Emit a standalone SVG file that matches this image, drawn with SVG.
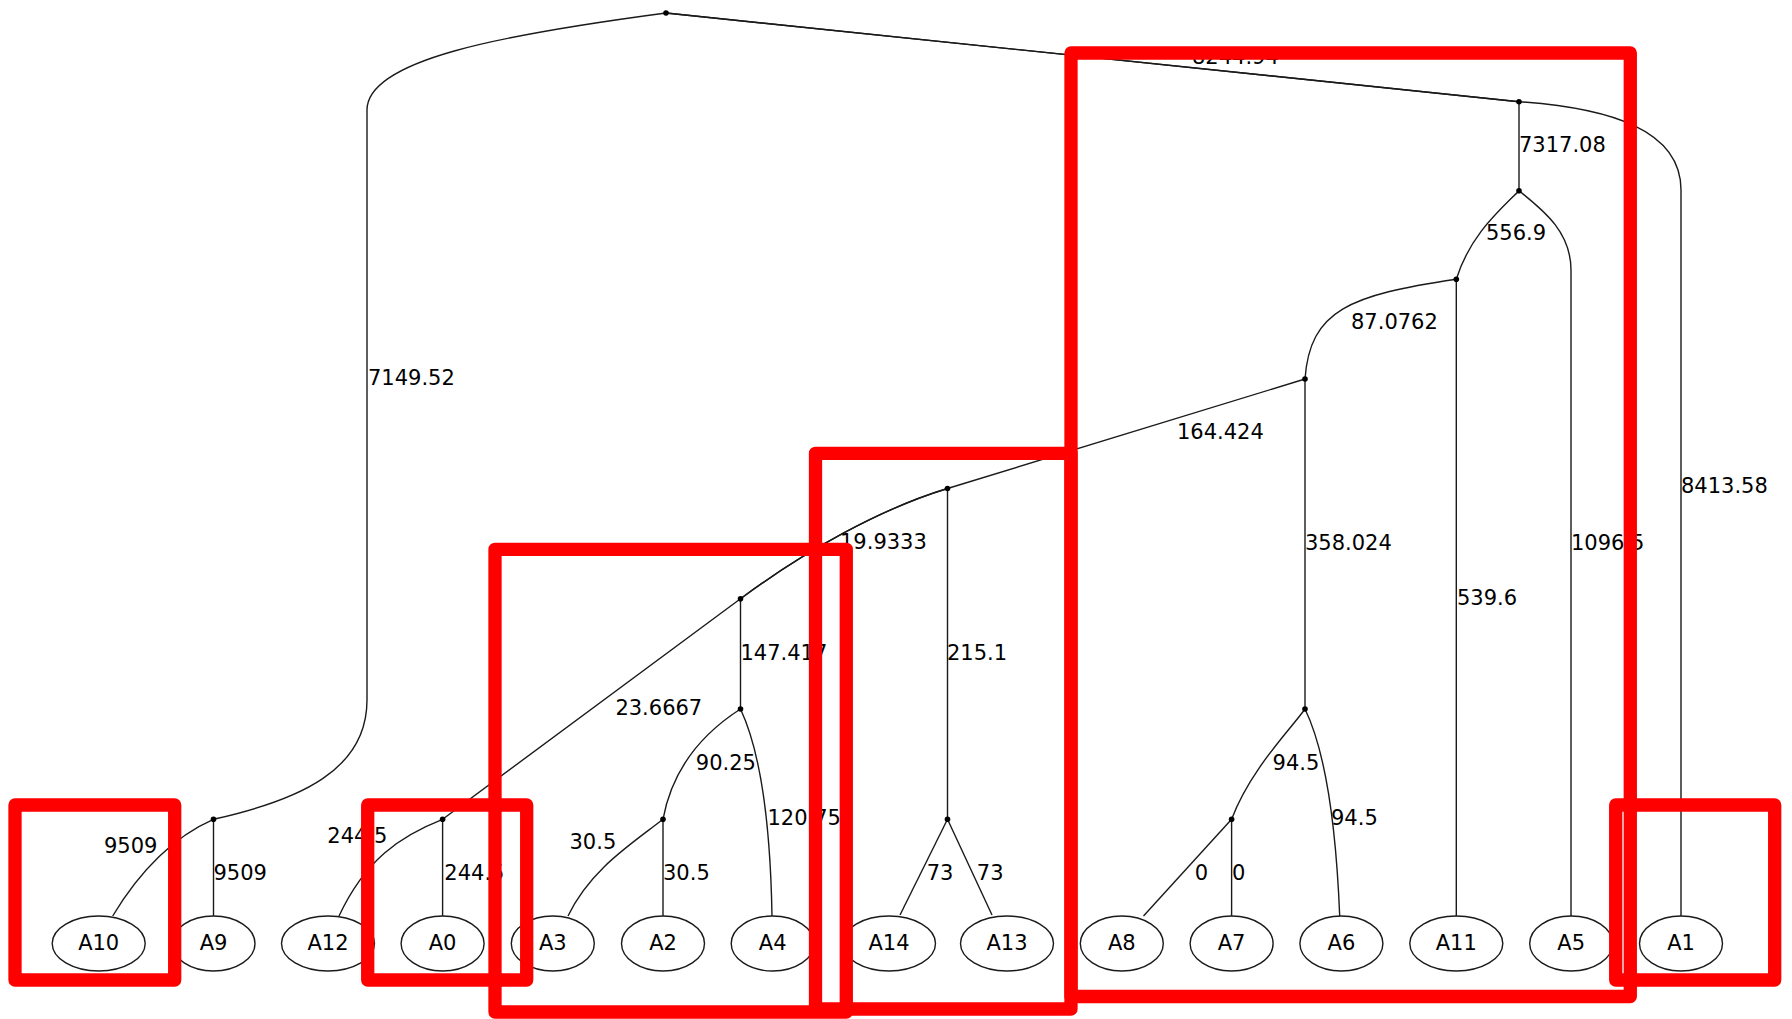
<svg xmlns="http://www.w3.org/2000/svg" width="1792" height="1019" viewBox="0 0 1792 1019">
<style>
.e{fill:none;stroke:#1a1a1a;stroke-width:1.4}
.n ellipse{fill:none;stroke:#1a1a1a;stroke-width:1.4}
.n text,.lbl{font-family:"DejaVu Sans","Liberation Sans",sans-serif;font-size:21px;fill:#000}
.n text{text-anchor:middle}
.d{fill:#000}
.hl{fill:none;stroke:#ff0000;stroke-width:13.3;stroke-linejoin:round}
</style>
<rect width="1792" height="1019" fill="#fff"/>
<g id="connectors">
<path class="e" d="M666,13 C500,35 367,60 367,110 L367,700 C367,770 300,800 213.5,819.3"/>
<path class="e" d="M666,13 L1519,101.7"/>
<path class="e" d="M666,13 L1519,101.7 C1610,108 1681,130 1681,190 L1681,916"/>
<path class="e" d="M1519,101.7 L1519,190.7"/>
<path class="e" d="M1519,190.7 C1500,210 1470,235 1456.3,279.3"/>
<path class="e" d="M1519,190.7 C1540,208 1571,230 1571,270 L1571,916"/>
<path class="e" d="M1456.3,279.3 C1350,295 1310,310 1305,379"/>
<path class="e" d="M1456.3,279.3 L1456.3,916"/>
<path class="e" d="M1305,379 L947.5,488.5"/>
<path class="e" d="M1305,379 L1305,709"/>
<path class="e" d="M947.5,488.5 C880,509 805,551 740.5,598.7"/>
<path class="e" d="M947.5,488.5 C880,509 805,551 740.5,598.7 L442.6,819.3"/>
<path class="e" d="M740.5,598.7 L740.5,709"/>
<path class="e" d="M947.5,488.5 L947.5,819.3"/>
<path class="e" d="M740.5,709 C700,735 672,770 663,819.3"/>
<path class="e" d="M740.5,709 C755,740 770,800 772,916"/>
<path class="e" d="M663,819.3 C630,845 590,870 568,916"/>
<path class="e" d="M663,819.3 L663,916"/>
<path class="e" d="M442.6,819.3 C400,836 365,860 339,916"/>
<path class="e" d="M442.6,819.3 L442.6,916"/>
<path class="e" d="M213.5,819.3 C175,836 140,870 112.7,916"/>
<path class="e" d="M213.5,819.3 L213.5,916"/>
<path class="e" d="M947.5,819.3 L900,915"/>
<path class="e" d="M947.5,819.3 L992,915"/>
<path class="e" d="M1305,709 C1290,730 1250,770 1231.6,819.3"/>
<path class="e" d="M1305,709 C1320,740 1335,800 1339.7,916"/>
<path class="e" d="M1231.6,819.3 L1143.5,916"/>
<path class="e" d="M1231.6,819.3 L1231.6,916"/>
</g>
<g id="edge-labels">
<text class="lbl" x="1192" y="64">8244.94</text>
<text class="lbl" x="368" y="385">7149.52</text>
<text class="lbl" x="1519" y="152">7317.08</text>
<text class="lbl" x="1486" y="240">556.9</text>
<text class="lbl" x="1351" y="329">87.0762</text>
<text class="lbl" x="1177" y="439">164.424</text>
<text class="lbl" x="1681" y="493">8413.58</text>
<text class="lbl" x="1305" y="550">358.024</text>
<text class="lbl" x="1571" y="550">1096.5</text>
<text class="lbl" x="1457" y="605">539.6</text>
<text class="lbl" x="947" y="660">215.1</text>
<text class="lbl" x="1272.6" y="770">94.5</text>
<text class="lbl" x="1331" y="825">94.5</text>
<text class="lbl" x="926.7" y="880">73</text>
<text class="lbl" x="976.8" y="880">73</text>
<text class="lbl" x="1194.7" y="880">0</text>
<text class="lbl" x="1232" y="880">0</text>
<text class="lbl" x="840" y="549">19.9333</text>
<text class="lbl" x="740.5" y="660">147.417</text>
<text class="lbl" x="615.4" y="715">23.6667</text>
<text class="lbl" x="695.8" y="770">90.25</text>
<text class="lbl" x="767.5" y="825">120.75</text>
<text class="lbl" x="569.5" y="849">30.5</text>
<text class="lbl" x="663" y="880">30.5</text>
<text class="lbl" x="327.3" y="842.7">244.5</text>
<text class="lbl" x="444.3" y="880">244.5</text>
<text class="lbl" x="104" y="853.3">9509</text>
<text class="lbl" x="213.5" y="880">9509</text>
</g>
<g id="inner-nodes">
<circle id="n_root" class="d" cx="666" cy="13" r="2.8"/>
<circle id="n_r1" class="d" cx="1519" cy="101.7" r="2.8"/>
<circle id="n_r2" class="d" cx="1519" cy="190.7" r="2.8"/>
<circle id="n_r3" class="d" cx="1456.3" cy="279.3" r="2.8"/>
<circle id="n_r4" class="d" cx="1305" cy="379" r="2.8"/>
<circle id="n_r5" class="d" cx="947.5" cy="488.5" r="2.8"/>
<circle id="n_r6" class="d" cx="740.5" cy="598.7" r="2.8"/>
<circle id="n_r7" class="d" cx="740.5" cy="709" r="2.8"/>
<circle id="n_r8" class="d" cx="663" cy="819.3" r="2.8"/>
<circle id="n_r9" class="d" cx="1305" cy="709" r="2.8"/>
<circle id="n_r10" class="d" cx="1231.6" cy="819.3" r="2.8"/>
<circle id="n_ra" class="d" cx="947.5" cy="819.3" r="2.8"/>
<circle id="n_a0p" class="d" cx="442.6" cy="819.3" r="2.8"/>
<circle id="n_a9p" class="d" cx="213.5" cy="819.3" r="2.8"/>
</g>
<g id="A10" class="n"><ellipse cx="98.7" cy="943.5" rx="46.5" ry="27.5"/><text x="98.7" y="950">A10</text></g>
<g id="A9" class="n"><ellipse cx="213.5" cy="943.5" rx="41.5" ry="27.5"/><text x="213.5" y="950">A9</text></g>
<g id="A12" class="n"><ellipse cx="328" cy="943.5" rx="46.5" ry="27.5"/><text x="328" y="950">A12</text></g>
<g id="A0" class="n"><ellipse cx="442.6" cy="943.5" rx="41.5" ry="27.5"/><text x="442.6" y="950">A0</text></g>
<g id="A3" class="n"><ellipse cx="552.8" cy="943.5" rx="41.5" ry="27.5"/><text x="552.8" y="950">A3</text></g>
<g id="A2" class="n"><ellipse cx="663" cy="943.5" rx="41.5" ry="27.5"/><text x="663" y="950">A2</text></g>
<g id="A4" class="n"><ellipse cx="772.7" cy="943.5" rx="41.5" ry="27.5"/><text x="772.7" y="950">A4</text></g>
<g id="A14" class="n"><ellipse cx="889" cy="943.5" rx="46.5" ry="27.5"/><text x="889" y="950">A14</text></g>
<g id="A13" class="n"><ellipse cx="1007" cy="943.5" rx="46.5" ry="27.5"/><text x="1007" y="950">A13</text></g>
<g id="A8" class="n"><ellipse cx="1121.8" cy="943.5" rx="41.5" ry="27.5"/><text x="1121.8" y="950">A8</text></g>
<g id="A7" class="n"><ellipse cx="1231.6" cy="943.5" rx="41.5" ry="27.5"/><text x="1231.6" y="950">A7</text></g>
<g id="A6" class="n"><ellipse cx="1341.4" cy="943.5" rx="41.5" ry="27.5"/><text x="1341.4" y="950">A6</text></g>
<g id="A11" class="n"><ellipse cx="1456.3" cy="943.5" rx="46.5" ry="27.5"/><text x="1456.3" y="950">A11</text></g>
<g id="A5" class="n"><ellipse cx="1571.2" cy="943.5" rx="41.5" ry="27.5"/><text x="1571.2" y="950">A5</text></g>
<g id="A1" class="n"><ellipse cx="1681" cy="943.5" rx="41.5" ry="27.5"/><text x="1681" y="950">A1</text></g>
<g id="highlights">
<rect class="hl" x="15" y="805" width="159.7" height="175"/>
<rect class="hl" x="367.7" y="805" width="159" height="175"/>
<rect class="hl" x="495" y="549.3" width="351.3" height="462.7"/>
<rect class="hl" x="815.5" y="453.3" width="255.5" height="555.7"/>
<rect class="hl" x="1071" y="53" width="559.3" height="943.5"/>
<rect class="hl" x="1615.7" y="805" width="159" height="175"/>
</g>
</svg>
